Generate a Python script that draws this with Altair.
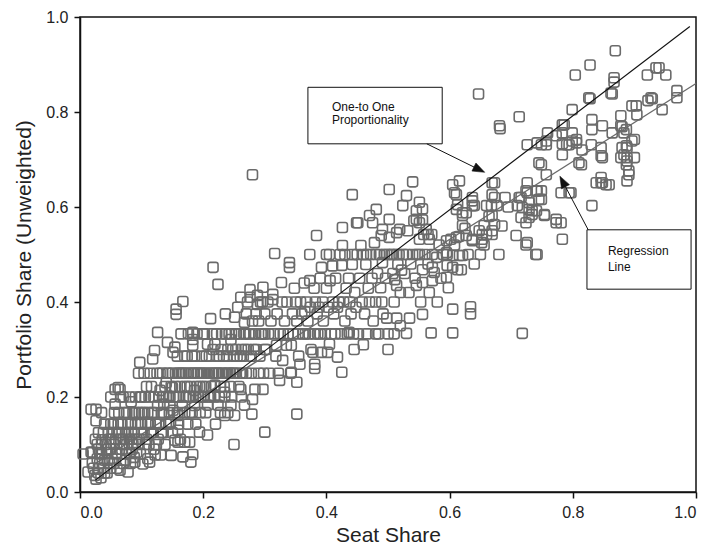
import math
import altair as alt
import pandas as pd

# ---- scatter points (seat share, portfolio share) ----
band_a = [(0.005,0.08),(0.013,0.042),(0.018,0.084),(0.018,0.174),(0.02,0.06),(0.02,0.083),(0.022,0.05),(0.024,0.035),(0.025,0.111),(0.026,0.027),(0.026,0.15),(0.026,0.174),(0.028,0.07),(0.028,0.1),(0.03,0.04),(0.03,0.09),(0.03,0.125),(0.03,0.05),(0.032,0.06),(0.032,0.083),(0.034,0.03),(0.035,0.08),(0.035,0.167),(0.035,0.1),(0.036,0.11),(0.038,0.05),(0.038,0.125),(0.04,0.143),(0.04,0.067),(0.04,0.04),(0.042,0.1),(0.043,0.09),(0.044,0.04),(0.045,0.083),(0.045,0.067),(0.046,0.125),(0.047,0.111),(0.048,0.06),(0.05,0.2),(0.05,0.111),(0.05,0.05),(0.05,0.09),(0.05,0.143),(0.052,0.07),(0.052,0.125),(0.054,0.143),(0.055,0.1),(0.055,0.06),(0.056,0.167),(0.057,0.185),(0.057,0.216),(0.058,0.08),(0.058,0.111),(0.06,0.05),(0.06,0.125),(0.06,0.083),(0.062,0.22),(0.062,0.143),(0.063,0.167),(0.064,0.09),(0.064,0.125),(0.065,0.046),(0.065,0.216),(0.066,0.111),(0.066,0.2),(0.068,0.143),(0.068,0.09),(0.07,0.06),(0.07,0.2),(0.07,0.111),(0.072,0.1),(0.072,0.167),(0.074,0.125),(0.074,0.067),(0.075,0.08),(0.076,0.167),(0.076,0.1),(0.078,0.042),(0.078,0.143),(0.078,0.125),(0.08,0.2),(0.08,0.111),(0.08,0.083),(0.082,0.06),(0.082,0.143),(0.083,0.19),(0.084,0.125),(0.084,0.111),(0.085,0.09),(0.086,0.167),(0.086,0.1),(0.088,0.073),(0.088,0.125),(0.089,0.063),(0.09,0.143),(0.09,0.2),(0.09,0.167),(0.092,0.111),(0.092,0.083),(0.094,0.1),(0.094,0.143),(0.095,0.25),(0.096,0.167),(0.096,0.111),(0.097,0.273),(0.098,0.08),(0.098,0.2)]

band_b = [(0.1,0.125),(0.1,0.2),(0.1,0.143),(0.1,0.167),(0.102,0.059),(0.104,0.25),(0.104,0.125),(0.105,0.167),(0.106,0.1),(0.106,0.2),(0.108,0.222),(0.108,0.111),(0.11,0.143),(0.11,0.07),(0.11,0.167),(0.112,0.2),(0.112,0.1),(0.113,0.063),(0.114,0.25),(0.114,0.143),(0.115,0.125),(0.116,0.222),(0.117,0.167),(0.118,0.28),(0.118,0.125),(0.12,0.2),(0.12,0.09),(0.12,0.167),(0.121,0.298),(0.122,0.078),(0.123,0.143),(0.124,0.1),(0.125,0.25),(0.126,0.336),(0.126,0.182),(0.127,0.111),(0.128,0.2),(0.128,0.143),(0.13,0.214),(0.13,0.25),(0.131,0.078),(0.132,0.167),(0.132,0.125),(0.134,0.25),(0.134,0.2),(0.135,0.125),(0.136,0.185),(0.136,0.167),(0.138,0.1),(0.138,0.222),(0.14,0.23),(0.14,0.2),(0.14,0.143),(0.142,0.315),(0.142,0.25),(0.143,0.25),(0.144,0.143),(0.144,0.2),(0.145,0.167),(0.146,0.2),(0.146,0.182),(0.147,0.147),(0.148,0.077),(0.148,0.222),(0.15,0.25),(0.15,0.22),(0.15,0.125),(0.151,0.294),(0.151,0.172),(0.152,0.2),(0.154,0.305),(0.154,0.109),(0.155,0.25),(0.155,0.222),(0.156,0.374),(0.156,0.385),(0.157,0.2),(0.158,0.167),(0.158,0.286),(0.159,0.13),(0.159,0.161),(0.159,0.105),(0.16,0.25),(0.16,0.143),(0.16,0.2),(0.162,0.222),(0.162,0.25),(0.163,0.111),(0.164,0.333),(0.165,0.25),(0.166,0.182),(0.167,0.401),(0.167,0.074),(0.168,0.2),(0.168,0.25),(0.17,0.286),(0.17,0.167),(0.17,0.105),(0.17,0.222),(0.172,0.25),(0.172,0.2),(0.174,0.222),(0.174,0.286),(0.175,0.143),(0.176,0.333),(0.176,0.25),(0.178,0.105),(0.178,0.2),(0.178,0.167),(0.18,0.063),(0.18,0.25),(0.18,0.222),(0.182,0.167),(0.182,0.286),(0.183,0.336),(0.183,0.321),(0.183,0.309),(0.183,0.079),(0.184,0.2),(0.184,0.25),(0.185,0.25),(0.186,0.286),(0.186,0.214),(0.186,0.182),(0.188,0.143),(0.188,0.2),(0.19,0.222),(0.19,0.25),(0.19,0.333),(0.192,0.2),(0.192,0.25),(0.194,0.126),(0.194,0.222),(0.195,0.167),(0.196,0.25),(0.196,0.2),(0.198,0.286),(0.198,0.25)]

band_c = [(0.2,0.222),(0.2,0.333),(0.2,0.2),(0.202,0.25),(0.202,0.333),(0.204,0.167),(0.204,0.222),(0.205,0.286),(0.206,0.25),(0.207,0.311),(0.207,0.12),(0.207,0.183),(0.208,0.2),(0.21,0.25),(0.21,0.286),(0.212,0.365),(0.212,0.2),(0.213,0.222),(0.214,0.25),(0.215,0.333),(0.216,0.473),(0.216,0.3),(0.217,0.25),(0.218,0.2),(0.219,0.311),(0.219,0.225),(0.22,0.143),(0.22,0.25),(0.222,0.286),(0.222,0.333),(0.224,0.437),(0.224,0.183),(0.224,0.25),(0.225,0.25),(0.226,0.2),(0.226,0.286),(0.228,0.167),(0.228,0.222),(0.229,0.3),(0.23,0.333),(0.23,0.25),(0.232,0.25),(0.233,0.286),(0.234,0.222),(0.235,0.2),(0.235,0.161),(0.235,0.21),(0.236,0.375),(0.236,0.333),(0.238,0.286),(0.238,0.25),(0.24,0.25),(0.24,0.167),(0.24,0.3),(0.242,0.333),(0.243,0.25),(0.244,0.222),(0.245,0.321),(0.245,0.183),(0.246,0.2),(0.246,0.333),(0.248,0.25),(0.248,0.3),(0.25,0.286),(0.25,0.1),(0.25,0.25),(0.251,0.368),(0.251,0.161),(0.252,0.25),(0.253,0.3),(0.254,0.333),(0.255,0.286),(0.256,0.389),(0.258,0.222),(0.258,0.333),(0.26,0.286),(0.26,0.25),(0.261,0.41),(0.261,0.216),(0.262,0.2),(0.262,0.3),(0.264,0.25),(0.265,0.286),(0.266,0.333),(0.267,0.357),(0.267,0.183),(0.268,0.3),(0.268,0.333),(0.27,0.25),(0.27,0.375),(0.272,0.4),(0.273,0.3),(0.274,0.333),(0.276,0.426),(0.276,0.41),(0.276,0.333),(0.278,0.25),(0.278,0.286),(0.279,0.164),(0.28,0.195),(0.28,0.668),(0.28,0.36),(0.282,0.3),(0.283,0.333),(0.284,0.216),(0.285,0.333),(0.286,0.375),(0.286,0.3),(0.288,0.414),(0.288,0.395),(0.29,0.25),(0.29,0.36),(0.292,0.286),(0.293,0.4),(0.294,0.333),(0.296,0.4),(0.296,0.333),(0.297,0.216),(0.297,0.431),(0.298,0.25),(0.3,0.126),(0.3,0.333),(0.3,0.375),(0.3,0.3)]

band_d = [(0.302,0.3),(0.305,0.4),(0.306,0.333),(0.308,0.25),(0.31,0.36),(0.313,0.416),(0.313,0.405),(0.315,0.333),(0.316,0.502),(0.318,0.286),(0.319,0.309),(0.32,0.375),(0.322,0.25),(0.324,0.235),(0.325,0.333),(0.327,0.441),(0.328,0.4),(0.329,0.277),(0.33,0.333),(0.332,0.36),(0.335,0.309),(0.336,0.4),(0.338,0.333),(0.34,0.483),(0.34,0.473),(0.342,0.25),(0.343,0.252),(0.343,0.309),(0.345,0.375),(0.346,0.333),(0.348,0.429),(0.35,0.4),(0.352,0.231),(0.352,0.164),(0.352,0.36),(0.354,0.333),(0.355,0.286),(0.357,0.269),(0.358,0.4),(0.36,0.375),(0.362,0.333),(0.364,0.44),(0.365,0.38),(0.366,0.333),(0.368,0.4),(0.37,0.36),(0.372,0.333),(0.373,0.445),(0.373,0.5),(0.374,0.389),(0.375,0.3),(0.378,0.294),(0.38,0.429),(0.38,0.333),(0.381,0.269),(0.381,0.26),(0.382,0.4),(0.384,0.54),(0.385,0.375),(0.386,0.333),(0.388,0.389),(0.39,0.45),(0.39,0.333),(0.392,0.473),(0.392,0.294),(0.394,0.4),(0.395,0.36),(0.398,0.333),(0.4,0.5),(0.4,0.429),(0.402,0.294),(0.403,0.389),(0.405,0.311),(0.405,0.5),(0.406,0.445),(0.408,0.333),(0.41,0.4),(0.41,0.476),(0.412,0.375),(0.414,0.333),(0.415,0.45),(0.418,0.284),(0.418,0.389),(0.42,0.4),(0.422,0.5),(0.424,0.333),(0.425,0.252),(0.425,0.477),(0.426,0.557),(0.426,0.519),(0.428,0.4),(0.43,0.5),(0.43,0.36),(0.432,0.429),(0.434,0.333),(0.436,0.45),(0.437,0.336),(0.438,0.4),(0.44,0.375),(0.442,0.626),(0.442,0.5),(0.442,0.479),(0.444,0.333),(0.445,0.3),(0.446,0.42),(0.448,0.389),(0.449,0.567)]

band_e = [(0.45,0.5),(0.451,0.567),(0.452,0.333),(0.454,0.45),(0.456,0.519),(0.458,0.4),(0.46,0.5),(0.46,0.31),(0.462,0.375),(0.464,0.479),(0.465,0.5),(0.466,0.333),(0.468,0.429),(0.47,0.582),(0.47,0.4),(0.472,0.5),(0.474,0.45),(0.475,0.567),(0.476,0.36),(0.478,0.525),(0.48,0.4),(0.48,0.333),(0.481,0.595),(0.481,0.5),(0.483,0.46),(0.485,0.333),(0.486,0.5),(0.488,0.43),(0.489,0.54),(0.49,0.4),(0.491,0.553),(0.491,0.483),(0.492,0.375),(0.494,0.5),(0.496,0.45),(0.498,0.366),(0.498,0.5),(0.5,0.333),(0.5,0.3),(0.502,0.637),(0.502,0.574),(0.502,0.536),(0.505,0.5),(0.507,0.5),(0.508,0.46),(0.51,0.4),(0.51,0.333),(0.511,0.447),(0.514,0.435),(0.514,0.546),(0.514,0.366),(0.514,0.5),(0.516,0.479),(0.518,0.5),(0.519,0.553),(0.52,0.42),(0.52,0.35),(0.522,0.467),(0.524,0.603),(0.525,0.5),(0.527,0.46),(0.53,0.624),(0.53,0.5),(0.53,0.334),(0.532,0.55),(0.534,0.42),(0.535,0.366),(0.537,0.48),(0.54,0.653),(0.54,0.5),(0.542,0.571),(0.544,0.45),(0.546,0.592),(0.546,0.574),(0.546,0.435),(0.548,0.5),(0.551,0.567),(0.551,0.5),(0.551,0.61),(0.551,0.532),(0.553,0.4),(0.556,0.468),(0.556,0.441),(0.556,0.374),(0.556,0.596),(0.556,0.573),(0.558,0.542),(0.56,0.5),(0.562,0.553),(0.565,0.48),(0.565,0.542),(0.567,0.42),(0.567,0.532),(0.57,0.335),(0.571,0.542),(0.572,0.473),(0.572,0.445),(0.572,0.5),(0.575,0.462),(0.579,0.494),(0.58,0.4),(0.583,0.52),(0.586,0.45),(0.59,0.5),(0.595,0.452),(0.595,0.529),(0.595,0.504),(0.596,0.477),(0.596,0.5),(0.598,0.43)]

band_f = [(0.602,0.532),(0.605,0.647),(0.605,0.473),(0.605,0.498),(0.605,0.385),(0.605,0.335),(0.608,0.52),(0.608,0.63),(0.611,0.626),(0.611,0.595),(0.611,0.536),(0.613,0.605),(0.613,0.468),(0.615,0.538),(0.616,0.655),(0.616,0.498),(0.619,0.468),(0.621,0.582),(0.621,0.561),(0.621,0.498),(0.621,0.588),(0.625,0.555),(0.627,0.588),(0.627,0.54),(0.63,0.5),(0.634,0.39),(0.634,0.375),(0.637,0.62),(0.637,0.603),(0.637,0.529),(0.637,0.613),(0.637,0.532),(0.64,0.48),(0.64,0.603),(0.647,0.838),(0.648,0.55),(0.65,0.5),(0.652,0.525),(0.653,0.542),(0.653,0.532),(0.656,0.561),(0.656,0.52),(0.66,0.542),(0.66,0.603),(0.664,0.58),(0.668,0.603),(0.669,0.55),(0.669,0.582),(0.669,0.626),(0.669,0.651),(0.669,0.542),(0.673,0.651),(0.673,0.62),(0.673,0.563),(0.677,0.603),(0.68,0.5),(0.681,0.771),(0.682,0.765),(0.685,0.56),(0.69,0.62),(0.695,0.6),(0.708,0.54),(0.71,0.603),(0.713,0.79),(0.713,0.62),(0.716,0.578),(0.716,0.62),(0.718,0.599),(0.718,0.334),(0.724,0.52),(0.724,0.634),(0.724,0.567),(0.726,0.731),(0.726,0.651),(0.726,0.63),(0.726,0.525),(0.729,0.595),(0.729,0.578),(0.729,0.609),(0.734,0.592),(0.734,0.584),(0.74,0.5),(0.741,0.634),(0.741,0.592),(0.742,0.735),(0.742,0.634),(0.742,0.5),(0.745,0.693),(0.745,0.616),(0.749,0.731),(0.749,0.689),(0.749,0.634),(0.749,0.616)]

band_g = [(0.754,0.582),(0.754,0.584),(0.757,0.731),(0.757,0.739),(0.757,0.668),(0.759,0.756),(0.773,0.75),(0.773,0.574),(0.773,0.567),(0.781,0.63),(0.781,0.567),(0.783,0.733),(0.783,0.773),(0.783,0.756),(0.783,0.71),(0.783,0.532),(0.786,0.773),(0.79,0.731),(0.794,0.731),(0.794,0.63),(0.797,0.63),(0.799,0.805),(0.799,0.756),(0.799,0.739),(0.804,0.878),(0.806,0.742),(0.806,0.735),(0.81,0.693),(0.814,0.689),(0.815,0.72),(0.826,0.83),(0.828,0.899),(0.828,0.828),(0.83,0.731),(0.831,0.784),(0.831,0.763),(0.831,0.603),(0.838,0.651),(0.846,0.725),(0.846,0.708),(0.846,0.662),(0.846,0.651),(0.848,0.771),(0.848,0.704),(0.848,0.651),(0.854,0.647),(0.859,0.647),(0.862,0.84),(0.864,0.838),(0.864,0.756),(0.867,0.872),(0.867,0.863),(0.869,0.929),(0.878,0.792),(0.878,0.771),(0.878,0.704),(0.88,0.769),(0.88,0.725),(0.883,0.756),(0.883,0.71),(0.887,0.763),(0.887,0.729),(0.887,0.689),(0.888,0.725),(0.888,0.704),(0.888,0.697),(0.888,0.655),(0.891,0.676),(0.891,0.668),(0.896,0.813),(0.896,0.739),(0.9,0.742),(0.9,0.704),(0.903,0.813),(0.904,0.794),(0.921,0.878),(0.922,0.824),(0.927,0.83),(0.929,0.828),(0.935,0.893),(0.94,0.893),(0.945,0.805),(0.951,0.878),(0.969,0.845),(0.969,0.83)]

# ---- reference lines ----
one_to_one_x = [0.025, 0.99]
one_to_one_y = [0.025, 0.98]
regression_x = [0.025, 1.0]
regression_y = [0.06, 0.86]

# ---- annotations (data units) ----
box_labels = [["One-to One", "Proportionality"], ["Regression", "Line"]]
box_x = [(0.370, 0.588), (0.823, 0.992)]
box_y = [(0.852, 0.733), (0.552, 0.427)]
text_x = [0.409, 0.857]
text_y = [(0.803, 0.774), (0.498, 0.465)]
arrow_from = [(0.563, 0.733), (0.825, 0.552)]
arrow_to = [(0.657, 0.673), (0.779, 0.665)]

W, H = 616, 475
GREY = "#6b6b6b"
FONT = "Liberation Sans"

pts = pd.DataFrame(band_a + band_b + band_c + band_d + band_e + band_f + band_g,
                   columns=["x", "y"])

xscale = alt.Scale(domain=[0, 1], nice=False, zero=False)
yscale = alt.Scale(domain=[0, 1], nice=False, zero=False)
ticks = [0, 0.2, 0.4, 0.6, 0.8, 1.0]
x_enc = alt.X("x:Q", scale=xscale,
              axis=alt.Axis(values=ticks, format=".1f", title="Seat Share", grid=False,
                            tickSize=6, labelPadding=6, labelFontSize=16,
                            titleFontSize=21, titlePadding=4))
y_enc = alt.Y("y:Q", scale=yscale,
              axis=alt.Axis(values=ticks, format=".1f", title="Portfolio Share (Unweighted)",
                            grid=False, tickSize=6, labelPadding=6, labelFontSize=16,
                            titleFontSize=21, titlePadding=11))

rounded_square = ("M-0.55,-1H0.55Q1,-1 1,-0.55V0.55Q1,1 0.55,1H-0.55Q-1,1 -1,0.55"
                  "V-0.55Q-1,-1 -0.55,-1Z")

points = alt.Chart(pts).mark_point(
    shape=rounded_square, size=100, filled=False, stroke=GREY, strokeWidth=1.6, opacity=1
).encode(x=x_enc, y=y_enc)

lines_df = pd.DataFrame({
    "x": [one_to_one_x[0], regression_x[0]],
    "x2": [one_to_one_x[1], regression_x[1]],
    "y": [one_to_one_y[0], regression_y[0]],
    "y2": [one_to_one_y[1], regression_y[1]],
    "kind": ["one", "reg"],
})
line_one = alt.Chart(lines_df[lines_df.kind == "one"]).mark_rule(
    color="#111111", strokeWidth=1.1
).encode(x=x_enc, y=y_enc, x2="x2:Q", y2="y2:Q")
line_reg = alt.Chart(lines_df[lines_df.kind == "reg"]).mark_rule(
    color="#6a6a6a", strokeWidth=1.3
).encode(x=x_enc, y=y_enc, x2="x2:Q", y2="y2:Q")

boxes_df = pd.DataFrame({
    "x": [b[0] for b in box_x], "x2": [b[1] for b in box_x],
    "y": [b[0] for b in box_y], "y2": [b[1] for b in box_y],
})
boxes = alt.Chart(boxes_df).mark_rect(
    fill="white", stroke="#111111", strokeWidth=1
).encode(x=x_enc, y=y_enc, x2="x2:Q", y2="y2:Q")

text_rows = []
for labels, tx, tys in zip(box_labels, text_x, text_y):
    for lab, ty in zip(labels, tys):
        text_rows.append({"x": tx, "y": ty, "label": lab})
texts = alt.Chart(pd.DataFrame(text_rows)).mark_text(
    align="left", baseline="alphabetic", fontSize=12, font=FONT, color="#111111"
).encode(x=x_enc, y=y_enc, text="label:N")

arrow_rows, head_rows = [], []
for (sx, sy), (tx, ty) in zip(arrow_from, arrow_to):
    dxp = (tx - sx) * W
    dyp = -(ty - sy) * H
    L = math.hypot(dxp, dyp)
    ux, uy = dxp / L, dyp / L
    arrow_rows.append({"x": sx, "y": sy, "x2": tx - 4 * ux / W, "y2": ty + 4 * uy / H})
    ang = math.degrees(math.atan2(dxp, -dyp)) % 360
    head_rows.append({"x": tx - 6 * ux / W, "y": ty + 6 * uy / H, "angle": ang})

arrows = alt.Chart(pd.DataFrame(arrow_rows)).mark_rule(
    color="#111111", strokeWidth=1
).encode(x=x_enc, y=y_enc, x2="x2:Q", y2="y2:Q")

heads = alt.Chart(pd.DataFrame(head_rows)).mark_point(
    shape="M0,-1L0.75,1L-0.75,1Z", size=144, filled=True, fill="#111111",
    stroke="#111111", strokeWidth=0.5, opacity=1
).encode(x=x_enc, y=y_enc, angle=alt.Angle("angle:Q", scale=None))

chart = alt.layer(points, line_reg, line_one, boxes, texts, arrows, heads).properties(
    width=W, height=H,
    autosize=alt.AutoSizeParams(type="none"),
    padding={"left": 72, "top": 9, "right": 3, "bottom": 55},
).configure_view(
    stroke="#111111", strokeWidth=1.5
).configure_axis(
    domainColor="#111111", domainWidth=1.5, tickColor="#111111", tickWidth=1.5,
    labelColor="#222222", titleColor="#222222", labelFont=FONT, titleFont=FONT,
    titleFontWeight="normal"
)

chart.save("out.html", embed_options={"renderer": "svg", "actions": False})
